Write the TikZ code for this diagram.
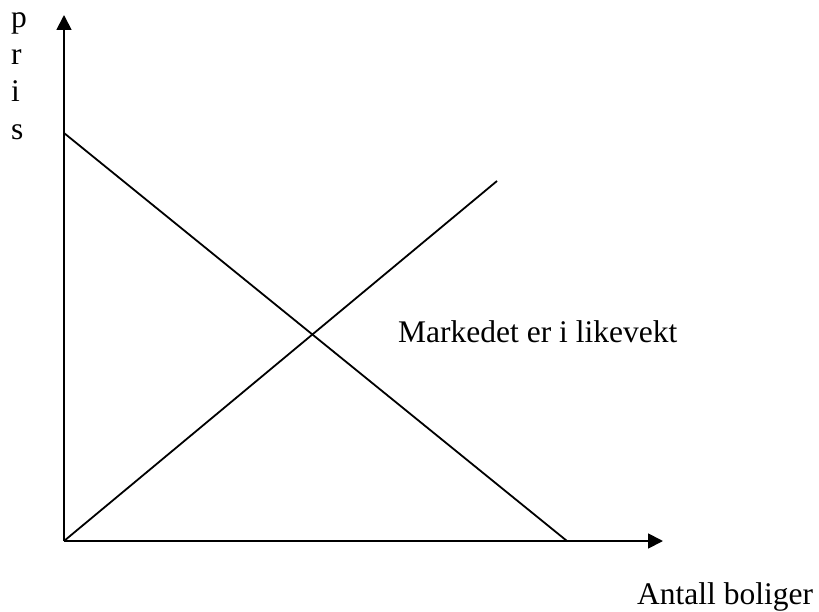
\documentclass[tikz,border=0pt]{standalone}
\usepackage{fontspec}
\setmainfont{Liberation Serif}
\usetikzlibrary{arrows.meta}
\begin{document}
\begin{tikzpicture}[x=1pt,y=-1pt,
  axis/.style={line width=1.8pt,-{Triangle[length=15pt,width=15pt]}},
  curve/.style={line width=1.8pt},
  lbl/.style={inner sep=0pt,anchor=base west,font=\fontsize{31.5}{37}\selectfont}]
\useasboundingbox (0,0) rectangle (819,612);
\coordinate (O) at (64,541);
\coordinate (xe) at (663,541);
\coordinate (ye) at (64,15);
\coordinate (d1) at (64,133);
\coordinate (d2) at (567,541);
\coordinate (s2) at (497,181);
\draw[axis] (O) -- (xe);
\draw[axis] (O) -- (ye);
\draw[curve] (d1) -- (d2);
\draw[curve] (O) -- (s2);
\node[lbl] (mk) at (398,342) {Markedet er i likevekt};
\node[lbl] (ab) at (637,604) {Antall boliger};
\node[lbl] (p1) at (11,28) {p};
\node[lbl] (p2) at (11,65) {r};
\node[lbl] (p3) at (11,102) {i};
\node[lbl] (p4) at (11,140) {s};
\end{tikzpicture}
\end{document}
